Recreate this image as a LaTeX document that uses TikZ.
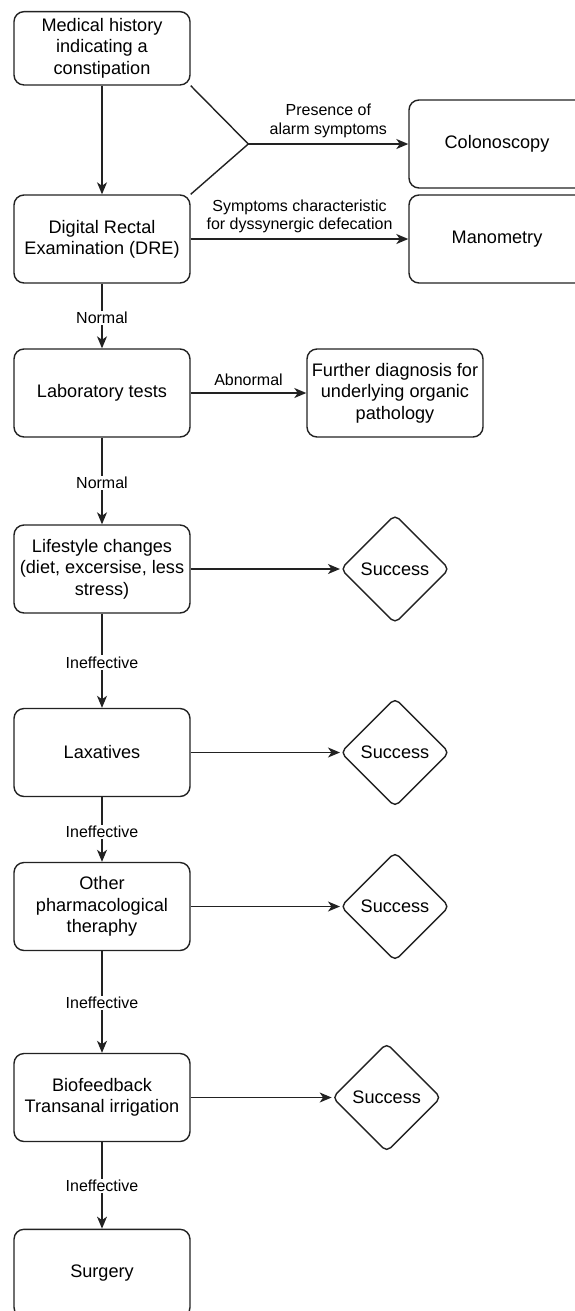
\documentclass[tikz,border=0pt]{standalone}
\usepackage{fontspec}
\setmainfont{Liberation Sans}
\usetikzlibrary{shapes.geometric,arrows.meta}
\newcommand{\boxfont}{\fontsize{13.6pt}{16pt}\selectfont}
\newcommand{\labfont}{\fontsize{12pt}{13.8pt}\selectfont}
\definecolor{linegray}{HTML}{222222}
\begin{document}
\begin{tikzpicture}[x=0.75pt,y=-0.75pt,
  box/.style={draw=linegray, line width=1.05pt, rounded corners=7.5pt, minimum width=132pt, minimum height=66pt, align=center, inner sep=2pt, font=\boxfont},
  dia/.style={draw=linegray, diamond, line width=1.05pt, rounded corners=4pt, minimum width=81.5pt, minimum height=81.5pt, inner sep=0pt, font=\boxfont},
  conn/.style={line width=1.05pt, draw=linegray},
  arr/.style={line width=1.05pt, draw=linegray, -{Stealth[length=9pt,width=7.5pt,inset=2.6pt]}},
  elab/.style={fill=white, font=\labfont, inner sep=1pt, align=center},
]
\clip (0,0) rectangle (575,1311);
\fill[white] (0,0) rectangle (575,1311);

\node[box, minimum height=55pt] (med) at (102,48.3) {Medical history\\indicating a\\constipation};
\node[box] (dre) at (102,239) {Digital Rectal\\Examination (DRE)};
\node[box] (colo) at (497,144) {Colonoscopy};
\node[box] (mano) at (497,239) {Manometry};
\node[box] (lab) at (102,393) {Laboratory tests};
\node[box] (fur) at (395,393) {Further diagnosis for\\underlying organic\\pathology};
\node[box] (life) at (102,569) {Lifestyle changes\\(diet, excersise, less\\stress)};
\node[dia] (s1) at (395,569) {Success};
\node[box] (lax) at (102,752.5) {Laxatives};
\node[dia] (s2) at (395,752.5) {Success};
\node[box] (oth) at (102,906.5) {Other\\pharmacological\\theraphy};
\node[dia] (s3) at (395,906.5) {Success};
\node[box] (bio) at (102,1097.5) {Biofeedback\\Transanal irrigation};
\node[dia] (s4) at (386.7,1097.5) {Success};
\node[box] (sur) at (102,1273.3) {Surgery};

\coordinate (j) at (248.3,144);
\draw[conn] (med.south east) -- (j) -- (dre.north east);
\draw[arr] (j) -- node[elab, midway, yshift=17.4pt] {Presence of\\alarm symptoms} (colo.west);
\draw[arr] (med) -- (dre);
\draw[arr] (dre) -- node[elab, midway, yshift=16.8pt] {Symptoms characteristic\\for dyssynergic defecation} (mano);
\draw[arr] (dre) -- node[elab, pos=0.53] {Normal} (lab);
\draw[arr] (lab) -- node[elab, midway, yshift=10pt] {Abnormal} (fur);
\draw[arr] (lab) -- node[elab, pos=0.52] {Normal} (life);
\draw[arr] (life) -- (s1);
\draw[arr] (life) -- node[elab, pos=0.52] {Ineffective} (lax);
\draw[arr] (lax) -- (s2);
\draw[arr] (lax) -- node[elab, pos=0.54] {Ineffective} (oth);
\draw[arr] (oth) -- (s3);
\draw[arr] (oth) -- node[elab, pos=0.51] {Ineffective} (bio);
\draw[arr] (bio) -- (s4);
\draw[arr] (bio) -- node[elab, pos=0.51] {Ineffective} (sur);
\end{tikzpicture}
\end{document}
